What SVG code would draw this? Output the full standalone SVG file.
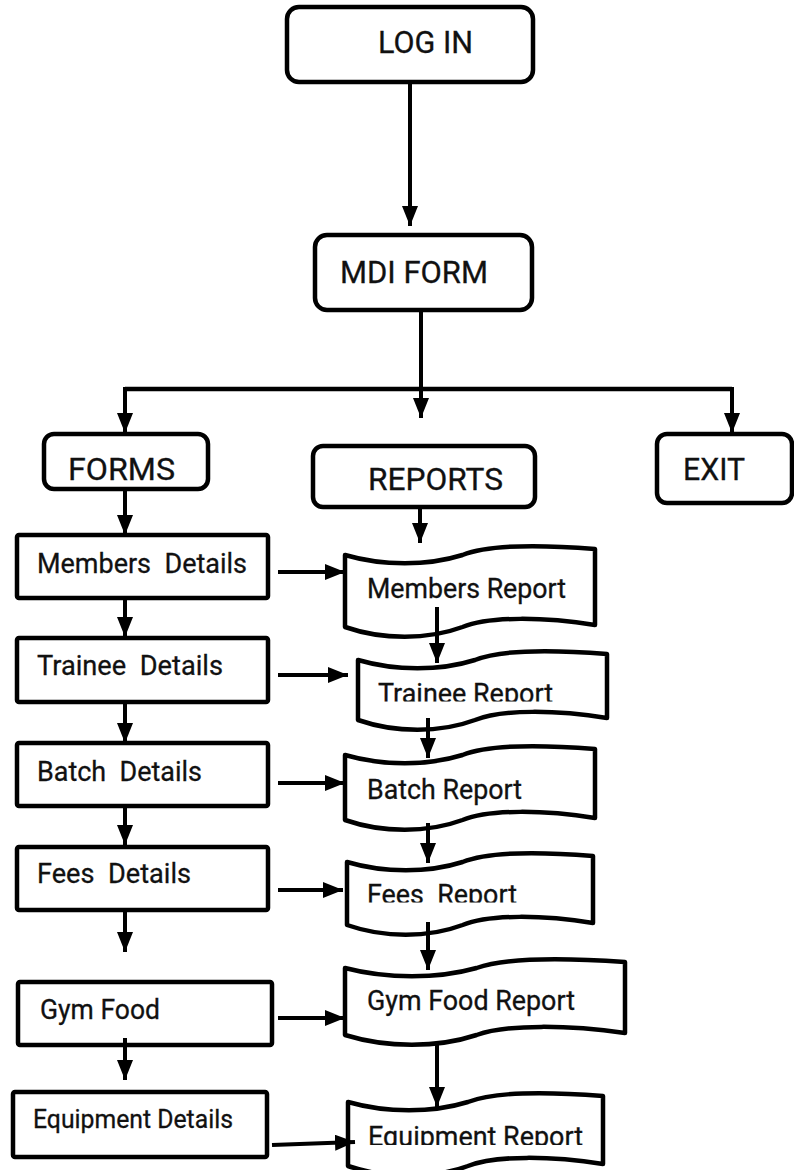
<svg xmlns="http://www.w3.org/2000/svg" width="794" height="1170" viewBox="0 0 794 1170">
<style>
  .box{fill:#fff;stroke:#000;stroke-width:4.5}
  .doc{fill:#fff;stroke:#000;stroke-width:4.5;stroke-linejoin:round}
  .t{font-family:Roboto,'Liberation Sans',sans-serif;fill:#111;stroke:#111;stroke-width:0.3}
  .big{font-size:31px}
  .mid{font-size:28px}
  .rep{font-size:27px}
  .c{fill:none;stroke:#000;stroke-width:4;marker-end:url(#ah)}
  .bar{fill:none;stroke:#000;stroke-width:4.5}
</style>
<defs>
  <marker id="ah" markerUnits="userSpaceOnUse" markerWidth="22" markerHeight="18" refX="20" refY="8" orient="auto">
    <path d="M0,0 L20,8 L0,16 Z" fill="#000"/>
  </marker>
  <clipPath id="cTr"><rect x="340" y="640" width="280" height="61.5"/></clipPath>
  <clipPath id="cFe"><rect x="340" y="860" width="280" height="42.5"/></clipPath>
  <clipPath id="cEq"><rect x="340" y="1100" width="280" height="45"/></clipPath>
</defs>

<g id="login"><rect class="box" x="287" y="7" width="246" height="75" rx="12"/><text class="t big" x="378" y="53" textLength="95" lengthAdjust="spacingAndGlyphs">LOG IN</text></g>
<g id="mdi"><rect class="box" x="315" y="235" width="217" height="75" rx="12"/><text class="t big" x="340" y="283" textLength="148" lengthAdjust="spacingAndGlyphs">MDI FORM</text></g>
<g id="forms"><rect class="box" x="44" y="434" width="164" height="55" rx="10"/><text class="t big" x="68" y="480" textLength="107" lengthAdjust="spacingAndGlyphs">FORMS</text></g>
<g id="reports"><rect class="box" x="313" y="446" width="222" height="61" rx="10"/><text class="t big" x="368" y="490" textLength="135" lengthAdjust="spacingAndGlyphs">REPORTS</text></g>
<g id="exit"><rect class="box" x="657" y="434" width="135" height="69" rx="10"/><text class="t big" x="683" y="480" textLength="62" lengthAdjust="spacingAndGlyphs">EXIT</text></g>

<g id="members-details"><rect class="box" x="17" y="535" width="251" height="63" rx="2"/><text class="t mid" x="37" y="573" xml:space="preserve" textLength="210" lengthAdjust="spacingAndGlyphs">Members  Details</text></g>
<g id="trainee-details"><rect class="box" x="17" y="638" width="251" height="64" rx="2"/><text class="t mid" x="37" y="675" xml:space="preserve" textLength="186" lengthAdjust="spacingAndGlyphs">Trainee  Details</text></g>
<g id="batch-details"><rect class="box" x="17" y="743" width="251" height="63" rx="2"/><text class="t mid" x="37" y="781" xml:space="preserve" textLength="165" lengthAdjust="spacingAndGlyphs">Batch  Details</text></g>
<g id="fees-details"><rect class="box" x="17" y="847" width="251" height="63" rx="2"/><text class="t mid" x="37" y="883" xml:space="preserve" textLength="154" lengthAdjust="spacingAndGlyphs">Fees  Details</text></g>
<g id="gym-food"><rect class="box" x="18" y="982" width="254" height="63" rx="2"/><text class="t mid" x="40" y="1019" textLength="120" lengthAdjust="spacingAndGlyphs">Gym Food</text></g>
<g id="equipment-details"><rect class="box" x="13" y="1092" width="254" height="65" rx="2"/><text class="t" style="font-size:26px" x="33" y="1128" textLength="200" lengthAdjust="spacingAndGlyphs">Equipment Details</text></g>

<g id="members-report"><path class="doc" d="M345,555 C382.5,566 427.5,566 462.5,555 C490,544 545,545 595,549 L595,625 C545,617 490,616 462.5,627 C427.5,640 382.5,640 345,627 Z"/><text class="t rep" x="367" y="598" textLength="199" lengthAdjust="spacingAndGlyphs">Members Report</text></g>
<g id="trainee-report"><path class="doc" d="M358,660 C395.4,671 440.2,671 475,660 C502.4,649 557.2,650 607,654 L607,718 C557.2,710 502.4,709 475,720 C440.2,733 395.4,733 358,720 Z"/><text class="t rep" x="378" y="703" clip-path="url(#cTr)" textLength="175" lengthAdjust="spacingAndGlyphs">Trainee Report</text></g>
<g id="batch-report"><path class="doc" d="M345,755 C382.5,766 427.5,766 462.5,755 C490,744 545,745 595,749 L595,818 C545,810 490,809 462.5,820 C427.5,833 382.5,833 345,820 Z"/><text class="t rep" x="367" y="799" textLength="155" lengthAdjust="spacingAndGlyphs">Batch Report</text></g>
<g id="fees-report"><path class="doc" d="M347,862 C383.9,873 428.2,873 462.6,862 C489.7,851 543.8,852 593,856 L593,923 C543.8,915 489.7,914 462.6,925 C428.2,938 383.9,938 347,925 Z"/><text class="t rep" x="367" y="903.5" xml:space="preserve" clip-path="url(#cFe)" textLength="150" lengthAdjust="spacingAndGlyphs">Fees  Report</text></g>
<g id="gym-food-report"><path class="doc" d="M345,968 C387,979 437.4,979 476.6,968 C507.4,957 569,958 625,962 L625,1033 C569,1025 507.4,1024 476.6,1035 C437.4,1048 387,1048 345,1035 Z"/><text class="t rep" x="367" y="1010" textLength="208" lengthAdjust="spacingAndGlyphs">Gym Food Report</text></g>
<g id="equipment-report"><path class="doc" d="M348,1102 C386.3,1113 432.2,1113 467.9,1102 C495.9,1091 552,1092 603,1096 L603,1164 C552,1156 495.9,1155 467.9,1166 C432.2,1179 386.3,1179 348,1166 Z"/><text class="t rep" x="368" y="1146" clip-path="url(#cEq)" textLength="215" lengthAdjust="spacingAndGlyphs">Equipment Report</text></g>

<g id="connectors">
  <line class="c" x1="410" y1="82" x2="410" y2="226"/>
  <line class="c" x1="421" y1="310" x2="421" y2="418"/>
  <path class="bar" d="M125,389 L732,389"/>
  <line class="c" x1="125" y1="387" x2="125" y2="433"/>
  <line class="c" x1="732" y1="387" x2="732" y2="433"/>
  <line class="c" x1="420" y1="507" x2="420" y2="543"/>
  <line class="c" x1="125" y1="489" x2="125" y2="535"/>
  <line class="c" x1="125" y1="598" x2="125" y2="637"/>
  <line class="c" x1="125" y1="702" x2="125" y2="743"/>
  <line class="c" x1="125" y1="806" x2="125" y2="845"/>
  <line class="c" x1="125" y1="910" x2="125" y2="952"/>
  <line class="c" x1="125" y1="1038" x2="125" y2="1080"/>
  <line class="c" x1="278" y1="572" x2="345" y2="572"/>
  <line class="c" x1="278" y1="675" x2="348" y2="675"/>
  <line class="c" x1="278" y1="783" x2="345" y2="783"/>
  <line class="c" x1="278" y1="890" x2="343" y2="890"/>
  <line class="c" x1="278" y1="1018" x2="345" y2="1018"/>
  <line class="c" x1="272" y1="1145" x2="355" y2="1142"/>
  <line class="c" x1="437" y1="607" x2="437" y2="663"/>
  <line class="c" x1="428" y1="718" x2="428" y2="758"/>
  <line class="c" x1="428" y1="823" x2="428" y2="863"/>
  <line class="c" x1="428" y1="922" x2="428" y2="970"/>
  <line class="c" x1="437" y1="1042" x2="437" y2="1107"/>
</g>
</svg>
